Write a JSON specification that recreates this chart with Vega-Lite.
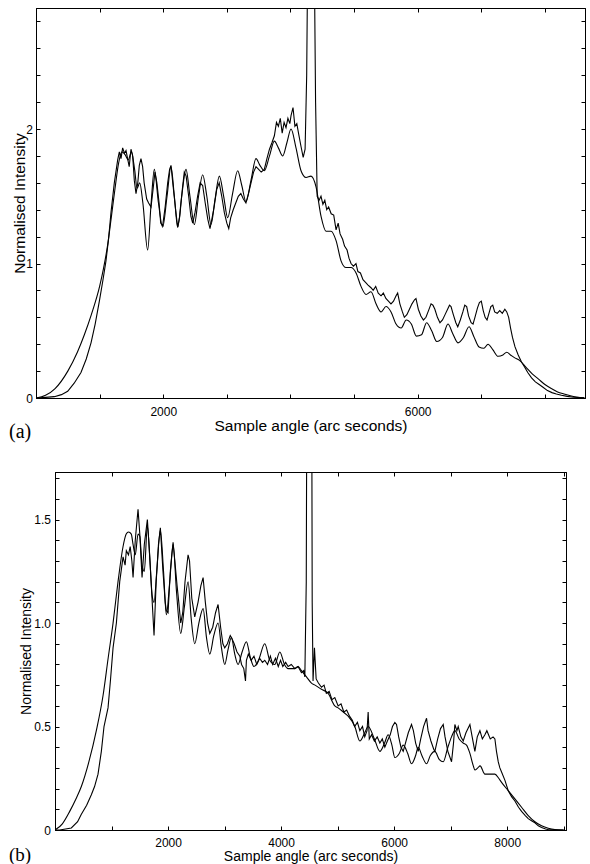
{
"$schema": "https://vega.github.io/schema/vega-lite/v6.json",
"padding": {"left": 8, "top": 7, "right": 0, "bottom": 0},
"config": {
  "view": {"stroke": "black", "strokeWidth": 1},
  "font": "Liberation Sans",
  "axis": {"grid": false, "domainColor": "black", "domainWidth": 1, "tickColor": "black", "tickSize": -4, "tickWidth": 1, "labelColor": "black", "titleColor": "black", "labelFont": "Liberation Sans", "titleFont": "Liberation Sans", "titleFontWeight": "normal", "labelFontSize": 12, "labelOverlap": false, "labelFlush": false}
},
"datasets": {
"a_sim": [
{"angle":0,"intensity":0},{"angle":150,"intensity":0.02},{"angle":300,"intensity":0.07},{"angle":500,"intensity":0.2},{"angle":650,"intensity":0.34},{"angle":760,"intensity":0.47},{"angle":870,"intensity":0.62},{"angle":1000,"intensity":0.83},{"angle":1060,"intensity":0.96},{"angle":1130,"intensity":1.15},{"angle":1180,"intensity":1.33},{"angle":1240,"intensity":1.55},{"angle":1300,"intensity":1.75},{"angle":1350,"intensity":1.83},{"angle":1400,"intensity":1.81},{"angle":1450,"intensity":1.77},{"angle":1500,"intensity":1.83},{"angle":1550,"intensity":1.7},{"angle":1590,"intensity":1.56},{"angle":1630,"intensity":1.6},{"angle":1680,"intensity":1.45},{"angle":1755,"intensity":1.1},{"angle":1810,"intensity":1.45},{"angle":1860,"intensity":1.7},{"angle":1925,"intensity":1.45},{"angle":1991,"intensity":1.27},{"angle":2060,"intensity":1.5},{"angle":2122,"intensity":1.72},{"angle":2175,"intensity":1.5},{"angle":2227,"intensity":1.27},{"angle":2290,"intensity":1.5},{"angle":2358,"intensity":1.7},{"angle":2420,"intensity":1.5},{"angle":2489,"intensity":1.29},{"angle":2555,"intensity":1.5},{"angle":2620,"intensity":1.66},{"angle":2685,"intensity":1.5},{"angle":2751,"intensity":1.29},{"angle":2815,"intensity":1.48},{"angle":2882,"intensity":1.65},{"angle":2950,"intensity":1.5},{"angle":3013,"intensity":1.34},{"angle":3090,"intensity":1.52},{"angle":3170,"intensity":1.69},{"angle":3235,"intensity":1.58},{"angle":3301,"intensity":1.46},{"angle":3380,"intensity":1.62},{"angle":3458,"intensity":1.78},{"angle":3520,"intensity":1.73},{"angle":3589,"intensity":1.69},{"angle":3670,"intensity":1.8},{"angle":3747,"intensity":1.91},{"angle":3810,"intensity":1.86},{"angle":3878,"intensity":1.8},{"angle":3945,"intensity":1.9},{"angle":4009,"intensity":2.0},{"angle":4087,"intensity":1.86},{"angle":4166,"intensity":1.69},{"angle":4245,"intensity":1.64},{"angle":4323,"intensity":1.65},{"angle":4402,"intensity":1.57},{"angle":4481,"intensity":1.35},{"angle":4559,"intensity":1.24},{"angle":4638,"intensity":1.24},{"angle":4717,"intensity":1.17},{"angle":4795,"intensity":1.02},{"angle":4874,"intensity":0.97},{"angle":4952,"intensity":0.97},{"angle":5031,"intensity":0.93},{"angle":5109,"intensity":0.83},{"angle":5188,"intensity":0.77},{"angle":5266,"intensity":0.79},{"angle":5345,"intensity":0.7},{"angle":5424,"intensity":0.64},{"angle":5502,"intensity":0.68},{"angle":5581,"intensity":0.64},{"angle":5660,"intensity":0.55},{"angle":5740,"intensity":0.52},{"angle":5820,"intensity":0.58},{"angle":5900,"intensity":0.55},{"angle":5980,"intensity":0.46},{"angle":6060,"intensity":0.47},{"angle":6140,"intensity":0.56},{"angle":6220,"intensity":0.5},{"angle":6300,"intensity":0.42},{"angle":6390,"intensity":0.45},{"angle":6476,"intensity":0.55},{"angle":6550,"intensity":0.48},{"angle":6633,"intensity":0.41},{"angle":6720,"intensity":0.45},{"angle":6807,"intensity":0.53},{"angle":6880,"intensity":0.46},{"angle":6964,"intensity":0.38},{"angle":7040,"intensity":0.37},{"angle":7106,"intensity":0.4},{"angle":7180,"intensity":0.36},{"angle":7263,"intensity":0.31},{"angle":7340,"intensity":0.32},{"angle":7400,"intensity":0.34},{"angle":7460,"intensity":0.32},{"angle":7520,"intensity":0.3},{"angle":7600,"intensity":0.28},{"angle":7700,"intensity":0.23},{"angle":7800,"intensity":0.18},{"angle":7900,"intensity":0.14},{"angle":8000,"intensity":0.1},{"angle":8100,"intensity":0.07},{"angle":8200,"intensity":0.045},{"angle":8300,"intensity":0.03},{"angle":8400,"intensity":0.017},{"angle":8500,"intensity":0.008},{"angle":8620,"intensity":0.002}
],
"a_exp": [
{"angle":0,"intensity":0},{"angle":150,"intensity":0.005},{"angle":288,"intensity":0.01},{"angle":400,"intensity":0.025},{"angle":498,"intensity":0.05},{"angle":600,"intensity":0.11},{"angle":707,"intensity":0.19},{"angle":790,"intensity":0.29},{"angle":865,"intensity":0.41},{"angle":930,"intensity":0.55},{"angle":996,"intensity":0.72},{"angle":1050,"intensity":0.87},{"angle":1100,"intensity":1.02},{"angle":1140,"intensity":1.18},{"angle":1179,"intensity":1.38},{"angle":1231,"intensity":1.6},{"angle":1284,"intensity":1.77},{"angle":1310,"intensity":1.83},{"angle":1336,"intensity":1.78},{"angle":1362,"intensity":1.86},{"angle":1390,"intensity":1.82},{"angle":1415,"intensity":1.84},{"angle":1440,"intensity":1.78},{"angle":1465,"intensity":1.72},{"angle":1493,"intensity":1.85},{"angle":1520,"intensity":1.8},{"angle":1545,"intensity":1.62},{"angle":1572,"intensity":1.52},{"angle":1600,"intensity":1.6},{"angle":1624,"intensity":1.73},{"angle":1650,"intensity":1.78},{"angle":1676,"intensity":1.72},{"angle":1700,"intensity":1.6},{"angle":1740,"intensity":1.48},{"angle":1770,"intensity":1.45},{"angle":1808,"intensity":1.42},{"angle":1840,"intensity":1.55},{"angle":1870,"intensity":1.68},{"angle":1900,"intensity":1.6},{"angle":1935,"intensity":1.45},{"angle":1960,"intensity":1.3},{"angle":1991,"intensity":1.28},{"angle":2030,"intensity":1.42},{"angle":2070,"intensity":1.6},{"angle":2100,"intensity":1.7},{"angle":2122,"intensity":1.73},{"angle":2150,"intensity":1.6},{"angle":2190,"intensity":1.42},{"angle":2227,"intensity":1.27},{"angle":2260,"intensity":1.35},{"angle":2300,"intensity":1.55},{"angle":2331,"intensity":1.68},{"angle":2360,"intensity":1.65},{"angle":2400,"intensity":1.5},{"angle":2435,"intensity":1.35},{"angle":2463,"intensity":1.3},{"angle":2500,"intensity":1.38},{"angle":2540,"intensity":1.5},{"angle":2580,"intensity":1.6},{"angle":2620,"intensity":1.58},{"angle":2660,"intensity":1.45},{"angle":2700,"intensity":1.33},{"angle":2735,"intensity":1.26},{"angle":2760,"intensity":1.32},{"angle":2800,"intensity":1.42},{"angle":2840,"intensity":1.55},{"angle":2880,"intensity":1.6},{"angle":2920,"intensity":1.5},{"angle":2960,"intensity":1.38},{"angle":3000,"intensity":1.3},{"angle":3030,"intensity":1.26},{"angle":3060,"intensity":1.34},{"angle":3100,"intensity":1.4},{"angle":3140,"intensity":1.45},{"angle":3180,"intensity":1.5},{"angle":3220,"intensity":1.52},{"angle":3260,"intensity":1.48},{"angle":3300,"intensity":1.45},{"angle":3340,"intensity":1.52},{"angle":3380,"intensity":1.6},{"angle":3420,"intensity":1.68},{"angle":3458,"intensity":1.72},{"angle":3500,"intensity":1.7},{"angle":3540,"intensity":1.68},{"angle":3589,"intensity":1.7},{"angle":3630,"intensity":1.78},{"angle":3670,"intensity":1.85},{"angle":3710,"intensity":1.9},{"angle":3747,"intensity":1.95},{"angle":3780,"intensity":2.05},{"angle":3810,"intensity":2.02},{"angle":3840,"intensity":2.08},{"angle":3870,"intensity":1.97},{"angle":3900,"intensity":2.05},{"angle":3930,"intensity":2.01},{"angle":3960,"intensity":2.08},{"angle":3990,"intensity":2.04},{"angle":4009,"intensity":2.1},{"angle":4040,"intensity":2.16},{"angle":4070,"intensity":2.02},{"angle":4100,"intensity":2.04},{"angle":4130,"intensity":1.96},{"angle":4166,"intensity":1.87},{"angle":4200,"intensity":1.79},{"angle":4230,"intensity":1.85},{"angle":4255,"intensity":2.4},{"angle":4275,"intensity":3.5},{"angle":4300,"intensity":9},{"angle":4340,"intensity":9},{"angle":4370,"intensity":3.5},{"angle":4395,"intensity":2.2},{"angle":4420,"intensity":1.5},{"angle":4450,"intensity":1.47},{"angle":4480,"intensity":1.5},{"angle":4510,"intensity":1.44},{"angle":4540,"intensity":1.47},{"angle":4570,"intensity":1.4},{"angle":4600,"intensity":1.42},{"angle":4640,"intensity":1.37},{"angle":4680,"intensity":1.36},{"angle":4717,"intensity":1.25},{"angle":4750,"intensity":1.3},{"angle":4780,"intensity":1.22},{"angle":4820,"intensity":1.18},{"angle":4850,"intensity":1.13},{"angle":4890,"intensity":1.1},{"angle":4920,"intensity":1.04},{"angle":4952,"intensity":1.0},{"angle":4990,"intensity":0.98},{"angle":5030,"intensity":1.0},{"angle":5060,"intensity":0.94},{"angle":5100,"intensity":0.93},{"angle":5140,"intensity":0.88},{"angle":5180,"intensity":0.86},{"angle":5220,"intensity":0.84},{"angle":5266,"intensity":0.82},{"angle":5300,"intensity":0.8},{"angle":5340,"intensity":0.83},{"angle":5380,"intensity":0.78},{"angle":5424,"intensity":0.76},{"angle":5460,"intensity":0.78},{"angle":5500,"intensity":0.74},{"angle":5540,"intensity":0.72},{"angle":5580,"intensity":0.7},{"angle":5620,"intensity":0.72},{"angle":5660,"intensity":0.76},{"angle":5685,"intensity":0.78},{"angle":5720,"intensity":0.7},{"angle":5760,"intensity":0.64},{"angle":5790,"intensity":0.6},{"angle":5830,"intensity":0.62},{"angle":5870,"intensity":0.66},{"angle":5910,"intensity":0.7},{"angle":5950,"intensity":0.73},{"angle":5973,"intensity":0.74},{"angle":6010,"intensity":0.66},{"angle":6050,"intensity":0.61},{"angle":6090,"intensity":0.58},{"angle":6130,"intensity":0.6},{"angle":6170,"intensity":0.65},{"angle":6210,"intensity":0.7},{"angle":6240,"intensity":0.69},{"angle":6270,"intensity":0.66},{"angle":6310,"intensity":0.6},{"angle":6350,"intensity":0.56},{"angle":6390,"intensity":0.58},{"angle":6430,"intensity":0.62},{"angle":6470,"intensity":0.66},{"angle":6500,"intensity":0.69},{"angle":6524,"intensity":0.68},{"angle":6560,"intensity":0.62},{"angle":6600,"intensity":0.56},{"angle":6630,"intensity":0.53},{"angle":6670,"intensity":0.58},{"angle":6710,"intensity":0.64},{"angle":6740,"intensity":0.69},{"angle":6770,"intensity":0.68},{"angle":6800,"intensity":0.61},{"angle":6840,"intensity":0.56},{"angle":6870,"intensity":0.55},{"angle":6900,"intensity":0.6},{"angle":6940,"intensity":0.67},{"angle":6970,"intensity":0.71},{"angle":7000,"intensity":0.72},{"angle":7030,"intensity":0.65},{"angle":7060,"intensity":0.6},{"angle":7090,"intensity":0.58},{"angle":7120,"intensity":0.63},{"angle":7150,"intensity":0.68},{"angle":7180,"intensity":0.69},{"angle":7210,"intensity":0.64},{"angle":7250,"intensity":0.63},{"angle":7290,"intensity":0.65},{"angle":7330,"intensity":0.63},{"angle":7370,"intensity":0.66},{"angle":7400,"intensity":0.64},{"angle":7430,"intensity":0.6},{"angle":7460,"intensity":0.52},{"angle":7490,"intensity":0.45},{"angle":7530,"intensity":0.38},{"angle":7580,"intensity":0.32},{"angle":7630,"intensity":0.27},{"angle":7680,"intensity":0.23},{"angle":7730,"intensity":0.19},{"angle":7790,"intensity":0.15},{"angle":7850,"intensity":0.12},{"angle":7910,"intensity":0.1},{"angle":7970,"intensity":0.08},{"angle":8040,"intensity":0.055},{"angle":8110,"intensity":0.04},{"angle":8180,"intensity":0.03},{"angle":8260,"intensity":0.02},{"angle":8350,"intensity":0.012},{"angle":8450,"intensity":0.006},{"angle":8620,"intensity":0.001}
],
"b_sim": [
{"angle":0,"intensity":0},{"angle":130,"intensity":0.03},{"angle":260,"intensity":0.09},{"angle":370,"intensity":0.15},{"angle":466,"intensity":0.21},{"angle":600,"intensity":0.33},{"angle":731,"intensity":0.48},{"angle":850,"intensity":0.65},{"angle":940,"intensity":0.83},{"angle":1027,"intensity":1.0},{"angle":1115,"intensity":1.2},{"angle":1204,"intensity":1.37},{"angle":1260,"intensity":1.43},{"angle":1300,"intensity":1.44},{"angle":1350,"intensity":1.43},{"angle":1381,"intensity":1.38},{"angle":1420,"intensity":1.33},{"angle":1469,"intensity":1.43},{"angle":1500,"intensity":1.42},{"angle":1540,"intensity":1.28},{"angle":1580,"intensity":1.25},{"angle":1634,"intensity":1.47},{"angle":1680,"intensity":1.3},{"angle":1720,"intensity":1.13},{"angle":1752,"intensity":1.1},{"angle":1800,"intensity":1.25},{"angle":1864,"intensity":1.45},{"angle":1920,"intensity":1.25},{"angle":1970,"intensity":1.04},{"angle":2030,"intensity":1.2},{"angle":2089,"intensity":1.38},{"angle":2150,"intensity":1.15},{"angle":2224,"intensity":0.95},{"angle":2290,"intensity":1.08},{"angle":2354,"intensity":1.2},{"angle":2410,"intensity":1.02},{"angle":2472,"intensity":0.9},{"angle":2545,"intensity":1.0},{"angle":2620,"intensity":1.07},{"angle":2680,"intensity":0.93},{"angle":2738,"intensity":0.85},{"angle":2810,"intensity":0.94},{"angle":2885,"intensity":1.0},{"angle":2945,"intensity":0.88},{"angle":3003,"intensity":0.8},{"angle":3060,"intensity":0.87},{"angle":3121,"intensity":0.93},{"angle":3180,"intensity":0.85},{"angle":3239,"intensity":0.8},{"angle":3310,"intensity":0.86},{"angle":3386,"intensity":0.91},{"angle":3450,"intensity":0.84},{"angle":3520,"intensity":0.79},{"angle":3600,"intensity":0.82},{"angle":3711,"intensity":0.9},{"angle":3800,"intensity":0.82},{"angle":3888,"intensity":0.8},{"angle":3977,"intensity":0.86},{"angle":4060,"intensity":0.8},{"angle":4124,"intensity":0.78},{"angle":4242,"intensity":0.78},{"angle":4300,"intensity":0.79},{"angle":4360,"intensity":0.77},{"angle":4449,"intensity":0.74},{"angle":4537,"intensity":0.71},{"angle":4600,"intensity":0.7},{"angle":4714,"intensity":0.68},{"angle":4832,"intensity":0.66},{"angle":4950,"intensity":0.6},{"angle":5009,"intensity":0.59},{"angle":5100,"intensity":0.57},{"angle":5186,"intensity":0.55},{"angle":5304,"intensity":0.5},{"angle":5393,"intensity":0.43},{"angle":5480,"intensity":0.47},{"angle":5540,"intensity":0.5},{"angle":5650,"intensity":0.44},{"angle":5747,"intensity":0.38},{"angle":5830,"intensity":0.42},{"angle":5894,"intensity":0.46},{"angle":5960,"intensity":0.41},{"angle":6012,"intensity":0.35},{"angle":6090,"intensity":0.37},{"angle":6160,"intensity":0.41},{"angle":6240,"intensity":0.37},{"angle":6307,"intensity":0.32},{"angle":6380,"intensity":0.36},{"angle":6425,"intensity":0.4},{"angle":6490,"intensity":0.36},{"angle":6573,"intensity":0.32},{"angle":6640,"intensity":0.36},{"angle":6720,"intensity":0.38},{"angle":6800,"intensity":0.34},{"angle":6868,"intensity":0.33},{"angle":6950,"intensity":0.4},{"angle":7015,"intensity":0.45},{"angle":7074,"intensity":0.48},{"angle":7150,"intensity":0.44},{"angle":7222,"intensity":0.42},{"angle":7280,"intensity":0.41},{"angle":7340,"intensity":0.37},{"angle":7400,"intensity":0.31},{"angle":7428,"intensity":0.29},{"angle":7480,"intensity":0.3},{"angle":7520,"intensity":0.31},{"angle":7605,"intensity":0.27},{"angle":7680,"intensity":0.27},{"angle":7782,"intensity":0.27},{"angle":7850,"intensity":0.25},{"angle":7900,"intensity":0.23},{"angle":8018,"intensity":0.19},{"angle":8136,"intensity":0.15},{"angle":8254,"intensity":0.11},{"angle":8372,"intensity":0.07},{"angle":8490,"intensity":0.04},{"angle":8608,"intensity":0.02},{"angle":8726,"intensity":0.008},{"angle":8844,"intensity":0.002},{"angle":9000,"intensity":0}
],
"b_exp": [
{"angle":0,"intensity":0},{"angle":83,"intensity":0},{"angle":289,"intensity":0.01},{"angle":400,"intensity":0.04},{"angle":466,"intensity":0.076},{"angle":560,"intensity":0.12},{"angle":643,"intensity":0.17},{"angle":700,"intensity":0.21},{"angle":761,"intensity":0.27},{"angle":820,"intensity":0.38},{"angle":867,"intensity":0.5},{"angle":938,"intensity":0.59},{"angle":980,"intensity":0.72},{"angle":1027,"intensity":0.88},{"angle":1086,"intensity":1.0},{"angle":1145,"intensity":1.2},{"angle":1204,"intensity":1.32},{"angle":1240,"intensity":1.28},{"angle":1262,"intensity":1.35},{"angle":1300,"intensity":1.33},{"angle":1330,"intensity":1.37},{"angle":1360,"intensity":1.3},{"angle":1381,"intensity":1.22},{"angle":1420,"intensity":1.4},{"angle":1469,"intensity":1.55},{"angle":1500,"intensity":1.43},{"angle":1540,"intensity":1.22},{"angle":1580,"intensity":1.38},{"angle":1634,"intensity":1.5},{"angle":1670,"intensity":1.35},{"angle":1710,"intensity":1.15},{"angle":1752,"intensity":0.94},{"angle":1790,"intensity":1.2},{"angle":1830,"intensity":1.38},{"angle":1864,"intensity":1.46},{"angle":1910,"intensity":1.25},{"angle":1950,"intensity":1.1},{"angle":1970,"intensity":1.06},{"angle":2000,"intensity":1.05},{"angle":2040,"intensity":1.25},{"angle":2089,"intensity":1.39},{"angle":2120,"intensity":1.3},{"angle":2160,"intensity":1.18},{"angle":2190,"intensity":1.1},{"angle":2224,"intensity":1.0},{"angle":2260,"intensity":1.05},{"angle":2300,"intensity":1.2},{"angle":2354,"intensity":1.33},{"angle":2380,"intensity":1.3},{"angle":2420,"intensity":1.12},{"angle":2472,"intensity":1.03},{"angle":2530,"intensity":1.1},{"angle":2580,"intensity":1.18},{"angle":2620,"intensity":1.22},{"angle":2660,"intensity":1.1},{"angle":2700,"intensity":1.0},{"angle":2738,"intensity":0.95},{"angle":2790,"intensity":0.98},{"angle":2840,"intensity":1.05},{"angle":2885,"intensity":1.09},{"angle":2930,"intensity":0.98},{"angle":2970,"intensity":0.9},{"angle":3003,"intensity":0.88},{"angle":3050,"intensity":0.9},{"angle":3100,"intensity":0.94},{"angle":3121,"intensity":0.93},{"angle":3170,"intensity":0.9},{"angle":3220,"intensity":0.86},{"angle":3270,"intensity":0.84},{"angle":3300,"intensity":0.8},{"angle":3340,"intensity":0.78},{"angle":3370,"intensity":0.72},{"angle":3386,"intensity":0.82},{"angle":3420,"intensity":0.85},{"angle":3470,"intensity":0.82},{"angle":3520,"intensity":0.84},{"angle":3570,"intensity":0.8},{"angle":3620,"intensity":0.83},{"angle":3670,"intensity":0.81},{"angle":3711,"intensity":0.82},{"angle":3760,"intensity":0.8},{"angle":3810,"intensity":0.84},{"angle":3850,"intensity":0.8},{"angle":3900,"intensity":0.83},{"angle":3950,"intensity":0.79},{"angle":3990,"intensity":0.82},{"angle":4030,"intensity":0.79},{"angle":4080,"intensity":0.81},{"angle":4124,"intensity":0.79},{"angle":4180,"intensity":0.8},{"angle":4242,"intensity":0.78},{"angle":4300,"intensity":0.79},{"angle":4360,"intensity":0.76},{"angle":4400,"intensity":0.77},{"angle":4420,"intensity":0.74},{"angle":4445,"intensity":1.2},{"angle":4465,"intensity":3},{"angle":4480,"intensity":6},{"angle":4520,"intensity":6},{"angle":4535,"intensity":3},{"angle":4550,"intensity":1.1},{"angle":4565,"intensity":0.72},{"angle":4590,"intensity":0.88},{"angle":4620,"intensity":0.73},{"angle":4660,"intensity":0.71},{"angle":4714,"intensity":0.69},{"angle":4760,"intensity":0.7},{"angle":4800,"intensity":0.66},{"angle":4850,"intensity":0.67},{"angle":4900,"intensity":0.63},{"angle":4950,"intensity":0.64},{"angle":5009,"intensity":0.6},{"angle":5060,"intensity":0.61},{"angle":5110,"intensity":0.57},{"angle":5160,"intensity":0.58},{"angle":5210,"intensity":0.55},{"angle":5260,"intensity":0.53},{"angle":5300,"intensity":0.5},{"angle":5350,"intensity":0.52},{"angle":5393,"intensity":0.48},{"angle":5440,"intensity":0.5},{"angle":5480,"intensity":0.45},{"angle":5520,"intensity":0.48},{"angle":5540,"intensity":0.57},{"angle":5560,"intensity":0.44},{"angle":5600,"intensity":0.46},{"angle":5650,"intensity":0.43},{"angle":5700,"intensity":0.45},{"angle":5747,"intensity":0.42},{"angle":5790,"intensity":0.44},{"angle":5835,"intensity":0.4},{"angle":5880,"intensity":0.43},{"angle":5930,"intensity":0.46},{"angle":5970,"intensity":0.5},{"angle":6012,"intensity":0.52},{"angle":6042,"intensity":0.51},{"angle":6080,"intensity":0.45},{"angle":6120,"intensity":0.4},{"angle":6160,"intensity":0.38},{"angle":6200,"intensity":0.42},{"angle":6250,"intensity":0.47},{"angle":6307,"intensity":0.51},{"angle":6340,"intensity":0.48},{"angle":6380,"intensity":0.42},{"angle":6425,"intensity":0.38},{"angle":6470,"intensity":0.44},{"angle":6520,"intensity":0.5},{"angle":6573,"intensity":0.54},{"angle":6600,"intensity":0.48},{"angle":6650,"intensity":0.43},{"angle":6700,"intensity":0.39},{"angle":6720,"intensity":0.38},{"angle":6770,"intensity":0.44},{"angle":6820,"intensity":0.49},{"angle":6868,"intensity":0.51},{"angle":6900,"intensity":0.45},{"angle":6950,"intensity":0.38},{"angle":7015,"intensity":0.33},{"angle":7050,"intensity":0.42},{"angle":7074,"intensity":0.51},{"angle":7110,"intensity":0.48},{"angle":7133,"intensity":0.5},{"angle":7180,"intensity":0.45},{"angle":7222,"intensity":0.43},{"angle":7270,"intensity":0.47},{"angle":7340,"intensity":0.51},{"angle":7380,"intensity":0.45},{"angle":7428,"intensity":0.38},{"angle":7470,"intensity":0.45},{"angle":7517,"intensity":0.48},{"angle":7560,"intensity":0.44},{"angle":7605,"intensity":0.46},{"angle":7640,"intensity":0.48},{"angle":7700,"intensity":0.44},{"angle":7750,"intensity":0.45},{"angle":7782,"intensity":0.44},{"angle":7810,"intensity":0.38},{"angle":7841,"intensity":0.33},{"angle":7870,"intensity":0.3},{"angle":7900,"intensity":0.28},{"angle":7960,"intensity":0.24},{"angle":8018,"intensity":0.19},{"angle":8080,"intensity":0.16},{"angle":8136,"intensity":0.14},{"angle":8200,"intensity":0.11},{"angle":8254,"intensity":0.09},{"angle":8320,"intensity":0.07},{"angle":8372,"intensity":0.055},{"angle":8430,"intensity":0.045},{"angle":8490,"intensity":0.035},{"angle":8550,"intensity":0.02},{"angle":8608,"intensity":0.012},{"angle":8680,"intensity":0.005},{"angle":8726,"intensity":0.002},{"angle":8844,"intensity":0},{"angle":9000,"intensity":0}
]
},
"columns": 1,
"bounds": "flush",
"center": true,
"spacing": 74,
"concat": [
{
  "width": 549, "height": 390,
  "title": {"text": "(a)", "orient": "bottom", "anchor": "start", "frame": "group", "dx": -27, "offset": 4, "baseline": "alphabetic", "font": "Liberation Serif", "fontSize": 20, "fontWeight": "normal", "color": "black"},
  "resolve": {"axis": {"x": "independent", "y": "independent"}},
  "layer": [
    {
      "data": {"name": "a_sim"},
      "mark": {"type": "line", "interpolate": "monotone", "clip": true, "color": "black", "strokeWidth": 1.1},
      "encoding": {
        "x": {"field": "angle", "type": "quantitative", "scale": {"domain": [0, 8630], "nice": false, "zero": false},
              "axis": {"title": "Sample angle (arc seconds)", "titleFontSize": 15.5, "values": [0,1000,2000,3000,4000,5000,6000,7000,8000], "format": "d", "labelExpr": "datum.value == 2000 || datum.value == 6000 ? datum.label : ''", "labelPadding": 12, "titlePadding": 1}},
        "y": {"field": "intensity", "type": "quantitative", "scale": {"domain": [0, 2.9], "nice": false},
              "axis": {"title": "Normalised Intensity", "titleFontSize": 15.5, "values": [0,0.2,0.4,0.6,0.8,1,1.2,1.4,1.6,1.8,2,2.2,2.4,2.6,2.8], "labelExpr": "datum.value == 0 ? '0' : datum.value == 1 ? '1' : datum.value == 2 ? '2' : ''", "labelPadding": 7.5, "titlePadding": -2}}
      }
    },
    {
      "data": {"name": "a_exp"},
      "mark": {"type": "line", "clip": true, "color": "black", "strokeWidth": 1.1},
      "encoding": {
        "x": {"field": "angle", "type": "quantitative", "scale": {"domain": [0, 8630], "nice": false, "zero": false},
              "axis": {"orient": "top", "labels": false, "title": null, "values": [0,1000,2000,3000,4000,5000,6000,7000,8000]}},
        "y": {"field": "intensity", "type": "quantitative", "scale": {"domain": [0, 2.9], "nice": false},
              "axis": {"orient": "right", "labels": false, "title": null, "values": [0,0.2,0.4,0.6,0.8,1,1.2,1.4,1.6,1.8,2,2.2,2.4,2.6,2.8]}}
      }
    }
  ]
},
{
  "width": 511, "height": 358,
  "title": {"text": "(b)", "orient": "bottom", "anchor": "start", "frame": "group", "dx": -46, "offset": -3, "baseline": "alphabetic", "font": "Liberation Serif", "fontSize": 19, "fontWeight": "normal", "color": "black"},
  "resolve": {"axis": {"x": "independent", "y": "independent"}},
  "layer": [
    {
      "data": {"name": "b_sim"},
      "mark": {"type": "line", "interpolate": "monotone", "clip": true, "color": "black", "strokeWidth": 1.1},
      "encoding": {
        "x": {"field": "angle", "type": "quantitative", "scale": {"domain": [0, 9040], "nice": false, "zero": false},
              "axis": {"title": "Sample angle (arc seconds)", "titleFontSize": 14, "values": [0,1000,2000,3000,4000,5000,6000,7000,8000,9000], "format": "d", "labelExpr": "datum.value == 2000 || datum.value == 4000 || datum.value == 6000 || datum.value == 8000 ? datum.label : ''", "labelPadding": 11, "titlePadding": 1.5}},
        "y": {"field": "intensity", "type": "quantitative", "scale": {"domain": [0, 1.73], "nice": false},
              "axis": {"title": "Normalised Intensity", "titleFontSize": 14, "values": [0,0.1,0.2,0.3,0.4,0.5,0.6,0.7,0.8,0.9,1,1.1,1.2,1.3,1.4,1.5,1.6,1.7], "labelExpr": "datum.value == 0 ? '0' : datum.value == 0.5 ? '0.5' : datum.value == 1 ? '1.0' : datum.value == 1.5 ? '1.5' : ''", "labelPadding": 8.5, "titlePadding": 0}}
      }
    },
    {
      "data": {"name": "b_exp"},
      "mark": {"type": "line", "clip": true, "color": "black", "strokeWidth": 1.1},
      "encoding": {
        "x": {"field": "angle", "type": "quantitative", "scale": {"domain": [0, 9040], "nice": false, "zero": false},
              "axis": {"orient": "top", "labels": false, "title": null, "values": [0,1000,2000,3000,4000,5000,6000,7000,8000,9000]}},
        "y": {"field": "intensity", "type": "quantitative", "scale": {"domain": [0, 1.73], "nice": false},
              "axis": {"orient": "right", "labels": false, "title": null, "values": [0,0.1,0.2,0.3,0.4,0.5,0.6,0.7,0.8,0.9,1,1.1,1.2,1.3,1.4,1.5,1.6,1.7]}}
      }
    }
  ]
}
]
}
